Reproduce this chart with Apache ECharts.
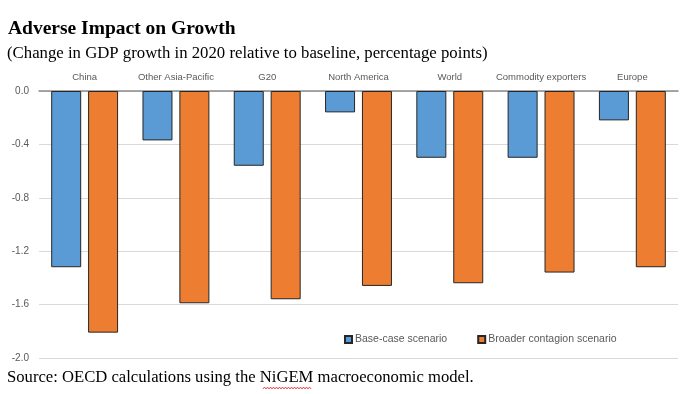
<!DOCTYPE html>
<html>
<head>
<meta charset="utf-8">
<script src="https://cdn.jsdelivr.net/npm/echarts@6/dist/echarts.min.js"></script>
<style>
html,body{margin:0;padding:0;background:#fff;}
#chart{width:700px;height:394px;}
</style>
</head>
<body>
<div id="chart"></div>
<script>
const categories = ['China', 'Other Asia-Pacific', 'G20', 'North America', 'World', 'Commodity exporters', 'Europe'];
const baseCase = [-1.32, -0.37, -0.56, -0.16, -0.50, -0.50, -0.22];
const broaderContagion = [-1.81, -1.59, -1.56, -1.46, -1.44, -1.36, -1.32];
const seriesNames = ['Base-case scenario', 'Broader contagion scenario'];
const titleText = 'Adverse Impact on Growth';
const subtitleText = '(Change in GDP growth in 2020 relative to baseline, percentage points)';
const sourceText = 'Source: OECD calculations using the NiGEM macroeconomic model.';

const sans = '"Liberation Sans", Arial, sans-serif';
const serif = '"Liberation Serif", "Times New Roman", serif';

// spell-check style wavy underline beneath "NiGEM"
const wavy = [];
for (let x = 263, i = 0; x <= 311; x += 1.5, i++) wavy.push([x, 388 + (i % 2 ? -1 : 1)]);

const chart = echarts.init(document.getElementById('chart'), null, {renderer: 'canvas'});
chart.setOption({
  animation: false,
  backgroundColor: '#ffffff',
  title: [
    {text: titleText, left: 8, top: 19, padding: 0,
     textStyle: {fontFamily: serif, fontSize: 19.5, fontWeight: 'bold', color: '#000'}},
    {text: subtitleText, left: 7, top: 45, padding: 0,
     textStyle: {fontFamily: serif, fontSize: 16.75, fontWeight: 'normal', color: '#000'}},
    {text: sourceText, left: 7, top: 369, padding: 0,
     textStyle: {fontFamily: serif, fontSize: 16.65, fontWeight: 'normal', color: '#000'}}
  ],
  graphic: [{
    type: 'polyline', silent: true,
    shape: {points: wavy},
    style: {stroke: '#e03030', lineWidth: 0.8, fill: null}
  }],
  legend: {
    left: 344, top: 334, padding: 0,
    itemWidth: 7, itemHeight: 7, itemGap: 30,
    icon: 'rect',
    data: seriesNames,
    textStyle: {fontFamily: sans, fontSize: 10.5, color: '#595959', padding: [0, 0, 0, -2]}
  },
  grid: {left: 39, right: 22, top: 91, bottom: 36, containLabel: false},
  xAxis: {
    type: 'category',
    position: 'top',
    data: categories,
    axisTick: {show: false},
    axisLine: {show: true, onZero: false, lineStyle: {color: '#8c8c8c', width: 1.5}},
    axisLabel: {fontFamily: sans, fontSize: 9.5, color: '#595959', margin: 9, interval: 0}
  },
  yAxis: {
    type: 'value',
    min: -2.0, max: 0, interval: 0.4,
    axisLine: {show: false},
    axisTick: {show: false},
    splitLine: {lineStyle: {color: '#d9d9d9', width: 1}},
    axisLabel: {fontFamily: sans, fontSize: 10, color: '#595959', margin: 10,
      formatter: v => v.toFixed(1)}
  },
  series: [
    {name: seriesNames[0], type: 'bar', data: baseCase, barWidth: 30, barGap: '23%',
     itemStyle: {color: '#5b9bd5', borderColor: '#262626', borderWidth: 1}},
    {name: seriesNames[1], type: 'bar', data: broaderContagion, barWidth: 30,
     itemStyle: {color: '#ed7d31', borderColor: '#262626', borderWidth: 1}}
  ]
});
</script>
</body>
</html>
